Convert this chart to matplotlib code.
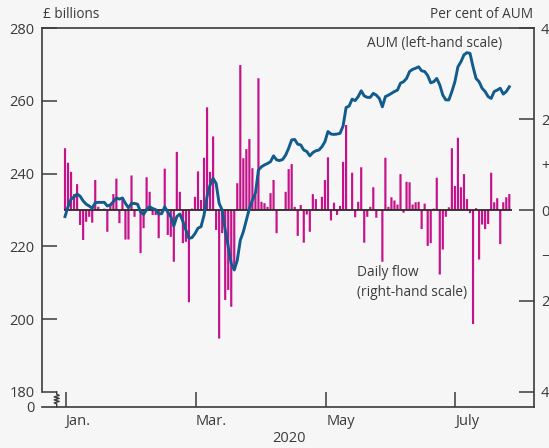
import numpy as np
import matplotlib.pyplot as plt

# daily net flows, per cent of AUM (right-hand scale), one bar per business day
flow = [1.36, 1.04, 0.84, 0.35, 0.57, -0.33, -0.66, -0.26, -0.15, -0.28,
        0.66, 0.07, 0.02, 0.03, -0.48, 0.11, 0.35, 0.69, -0.29, 0.22,
        -0.65, -0.65, 0.76, -0.15, 0.02, -0.95, -0.40, 0.72, 0.40, -0.11,
        -0.11, -0.62, -0.08, 0.91, -0.55, -0.59, -1.14, 1.28, 0.40, -0.73,
        -0.70, -2.03, 0.03, 0.29, 0.85, 0.22, 1.15, 2.26, 0.84, 1.62,
        -0.44, -2.83, -0.51, -1.98, -1.76, -2.13, -1.32, 0.59, 3.19, 1.14,
        1.34, 1.56, 0.92, 0.33, 2.90, 0.18, 0.15, 0.07, 0.37, 0.66,
        -0.51, 0.02, 0.02, 0.40, 0.90, 1.01, 0.07, -0.57, 0.11, -0.72,
        -0.10, -0.48, 0.35, 0.24, 0.02, 0.29, 0.66, 1.16, -0.23, 0.16,
        -0.11, 0.09, 1.06, 1.87, 0.02, 0.82, -0.16, 0.18, 0.94, -0.72,
        -0.15, 0.07, 0.50, -0.17, -0.02, -1.14, 1.15, 0.07, 0.28, 0.21,
        0.12, 0.79, -0.06, 0.62, 0.61, 0.12, 0.17, 0.18, -0.42, 0.14,
        -0.79, -0.73, 0.03, 0.71, -1.42, -0.87, -0.15, 0.06, 1.36, 0.53,
        1.59, 0.50, 0.79, 0.24, -0.07, -2.51, 0.04, -1.09, -0.32, -0.42,
        -0.31, 0.82, 0.17, 0.26, -0.75, 0.17, 0.28, 0.35]

# assets under management, GBP billions (left-hand scale)
aum = [228.2, 230.9, 233.0, 233.6, 234.4, 233.8, 232.5, 231.6, 231.1, 230.5,
       232.0, 232.1, 232.1, 232.1, 231.1, 231.4, 232.3, 233.3, 233.0, 233.3,
       231.8, 230.6, 231.8, 231.8, 231.6, 229.5, 228.8, 230.1, 230.9, 230.4,
       230.1, 228.9, 229.0, 230.9, 229.4, 228.2, 225.6, 228.2, 228.9, 226.9,
       224.5, 222.2, 222.4, 223.5, 225.0, 225.4, 228.6, 233.7, 236.9, 238.7,
       237.3, 231.8, 230.0, 224.5, 219.9, 215.3, 213.5, 216.2, 221.7, 224.0,
       227.2, 230.4, 232.7, 234.6, 241.0, 241.9, 242.4, 242.8, 243.3, 244.9,
       243.8, 243.6, 243.9, 245.1, 247.0, 249.3, 249.4, 248.1, 247.9, 246.5,
       246.1, 244.9, 245.8, 246.3, 246.5, 247.4, 248.8, 251.6, 250.9, 250.8,
       250.9, 251.1, 253.1, 258.2, 258.6, 260.5, 260.1, 261.2, 262.8, 261.4,
       261.0, 261.0, 262.1, 261.6, 260.7, 258.4, 261.2, 261.6, 262.1, 262.6,
       263.0, 264.9, 265.3, 266.2, 268.1, 268.7, 269.0, 269.4, 268.3, 268.1,
       267.0, 265.0, 265.3, 266.2, 264.4, 261.6, 260.3, 260.3, 262.6, 265.3,
       269.4, 270.8, 272.7, 273.3, 273.1, 269.4, 266.2, 265.3, 263.5, 262.6,
       261.2, 260.7, 262.6, 263.0, 263.5, 261.9, 262.6, 263.9]

month_labels = ['Jan.', 'Mar.', 'May', 'July']
month_pos = [0.2, 43.3, 86.4, 129.1]
left_ticks = [180, 200, 220, 240, 260, 280]
right_ticks = [-4, -2, -1, 0, 1, 2, 4]
right_labels = ['4', '2', '\u2212', '0', '+', '2', '4']

bg = '#f6f6f6'
ink = '#3b3b3b'
blue = '#125b8d'
magenta = '#c5128b'

plt.rcParams['font.family'] = ['Open Sans', 'DejaVu Sans']
plt.rcParams['font.size'] = 10

W, H = 549, 448
fig = plt.figure(figsize=(W / 100, H / 100), dpi=100, facecolor=bg)
ax = fig.add_axes([41.7 / W, (H - 406.7) / H, 492.3 / W, 378.4 / H])
ax2 = ax.twinx()
ax.set_zorder(ax2.get_zorder() + 1)
ax.patch.set_visible(False)
ax2.patch.set_visible(False)

x = np.arange(len(flow))
ax2.bar(x, flow, width=0.72, color=magenta, linewidth=0, snap=False)
ax2.hlines(0, -0.3, len(flow) - 0.2, color='#2a2a2a', lw=1.3, zorder=3)
ax.plot(np.arange(len(aum)), aum, color=blue, lw=2.1, solid_joinstyle='round')

ax.set_xlim(-7.71, 155.17)
ybot = 180 - 15 / 3.634
ax.set_ylim(ybot, 280)
ax2.set_ylim(-4 - 15 / 45.425, 4)

# spines
for s in ax.spines.values():
    s.set_color(ink)
    s.set_linewidth(1.2)
ax.spines['left'].set_bounds(180, 280)
for s in ax2.spines.values():
    s.set_visible(False)

tick_kw = dict(direction='in', length=10.8, width=1.1, color=ink,
               labelcolor=ink, labelsize=10.5)
ax.set_yticks([ybot] + left_ticks)
ax.set_yticklabels(['0'] + [str(v) for v in left_ticks])
ax.tick_params(axis='y', pad=5, **tick_kw)
ax.yaxis.get_major_ticks()[0].tick1line.set_visible(False)

ax2.set_yticks(right_ticks)
ax2.set_yticklabels(right_labels)
ax2.tick_params(axis='y', pad=5, **tick_kw)
for i, v in enumerate(right_ticks):
    if abs(v) == 1:
        ax2.yaxis.get_major_ticks()[i].tick2line.set_visible(False)

ax.set_xticks(month_pos)
ax.set_xticklabels(month_labels, ha='left')
ax.tick_params(axis='x', pad=5, **tick_kw)

# axis break on the left-hand scale
bx = [15, 15, 17.5, 12.5, 17.5, 12.5, 17.5, 12.5, 15, 15]
by = [15, 12.5, 11.3, 9.8, 8.3, 6.8, 5.3, 3.8, 2.8, 0]
ax.plot(np.array(bx) / 492.3, np.array(by) / 378.4, color=ink, lw=1.0,
        transform=ax.transAxes, clip_on=False)

fs = 9.8
fig.text(42.7 / W, 1 - 14.5 / H, '\u00a3 billions', ha='left', va='center',
         color=ink, fontsize=fs)
fig.text(533 / W, 1 - 14.5 / H, 'Per cent of AUM', ha='right', va='center',
         color=ink, fontsize=fs)
fig.text(289 / W, 1 - 438 / H, '2020', ha='center', va='center',
         color=ink, fontsize=10.5)
fig.text(502 / W, 1 - 43 / H, 'AUM (left-hand scale)', ha='right',
         va='center', color=ink, fontsize=fs)
fig.text(356.7 / W, 1 - 273 / H, 'Daily flow', ha='left', va='center',
         color=ink, fontsize=fs)
fig.text(356.7 / W, 1 - 293 / H, '(right-hand scale)', ha='left',
         va='center', color=ink, fontsize=fs)

fig.savefig('out.png', dpi=100, facecolor=bg)
